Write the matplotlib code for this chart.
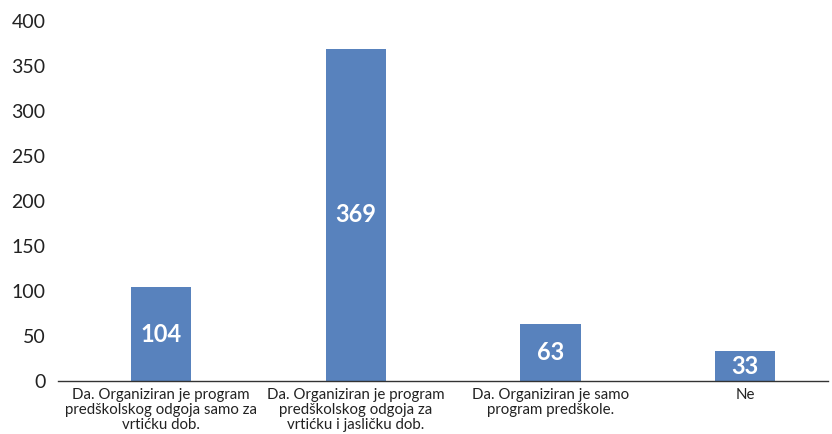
import matplotlib
matplotlib.use("Agg")
import matplotlib.pyplot as plt

categories = [
    "Da. Organiziran je program\npredškolskog odgoja samo za\nvrtićku dob.",
    "Da. Organiziran je program\npredškolskog odgoja za\nvrtićku i jasličku dob.",
    "Da. Organiziran je samo\nprogram predškole.",
    "Ne",
]
values = [104, 369, 63, 33]
yticks = [0, 50, 100, 150, 200, 250, 300, 350, 400]

plt.rcParams['font.family'] = ['Lato', 'DejaVu Sans']

fig = plt.figure(figsize=(8.32, 4.34), dpi=100)
W, H = 832, 434
ax = fig.add_axes([58 / W, (H - 381) / H, (828 - 58) / W, (381 - 21) / H])

x = list(range(len(categories)))
bars = ax.bar(x, values, width=0.31, color="#5882BD", zorder=2)
ax.set_xlim(-0.529, 3.426)
ax.set_ylim(0, 400)
ax.set_yticks(yticks)
ax.set_yticklabels([str(t) for t in yticks], fontsize=14, color="#222222")
ax.set_xticks(x)
ax.set_xticklabels(categories, fontsize=10.8, color="#222222", linespacing=1.1)
ax.tick_params(axis='both', length=0)
ax.tick_params(axis='y', pad=9)
ax.tick_params(axis='x', pad=5)

for s in ["top", "right", "left"]:
    ax.spines[s].set_visible(False)
ax.spines["bottom"].set_color("#333333")
ax.spines["bottom"].set_linewidth(1)

for b, v in zip(bars, values):
    ax.text(b.get_x() + b.get_width() / 2, v / 2, str(v), ha="center", va="center",
            color="white", fontsize=17, fontweight="bold")

fig.savefig("out.png", dpi=100)
